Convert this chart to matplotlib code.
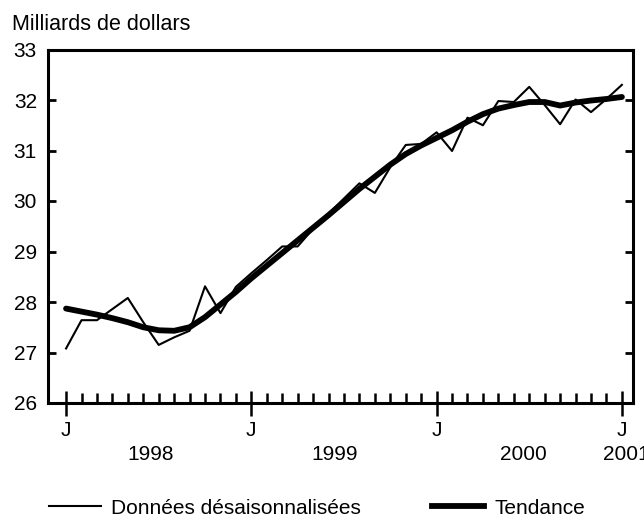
import numpy as np
import matplotlib
matplotlib.use('Agg')
import matplotlib.pyplot as plt
from matplotlib.lines import Line2D
from matplotlib.ticker import FixedLocator

plt.rcParams['font.family'] = ['Liberation Sans', 'DejaVu Sans']

# mois depuis janvier 1998 (0) jusqu'a janvier 2001 (36)
mois = np.arange(37)

# donnees desaisonnalisees (milliards de dollars)
donnees = [27.08, 27.64, 27.64, 27.86, 28.08, 27.60, 27.15, 27.30, 27.43, 28.31, 27.78, 28.30,
           28.57, 28.83, 29.10, 29.10, 29.45, 29.75, 30.05, 30.35, 30.16, 30.67, 31.11, 31.13,
           31.36, 30.99, 31.65, 31.50, 31.98, 31.96, 32.26, 31.90, 31.52, 32.01, 31.76, 32.02,
           32.30]

# tendance
tendance = [27.87, 27.81, 27.75, 27.68, 27.60, 27.50, 27.44, 27.43, 27.50, 27.70, 27.95, 28.20,
            28.47, 28.72, 28.97, 29.22, 29.47, 29.72, 29.98, 30.24, 30.48, 30.72, 30.93, 31.10,
            31.25, 31.40, 31.57, 31.72, 31.83, 31.90, 31.96, 31.96, 31.89, 31.95, 31.99, 32.02,
            32.06]

annees = ['1998', '1999', '2000', '2001']
pos_annees = [5.5, 17.4, 29.6, 36.3]
pos_j = [0, 12, 24, 36]

fig = plt.figure(figsize=(6.44, 5.23), dpi=100)
ax = fig.add_axes([48/644, 1 - 403/523, (633 - 48)/644, (403 - 49.5)/523])

ax.plot(mois, donnees, color='black', linewidth=1.5)
ax.plot(mois, tendance, color='black', linewidth=4.2, solid_capstyle='round')

ax.set_xlim(-1.17, 36.72)
ax.set_ylim(26, 33)

for s in ax.spines.values():
    s.set_linewidth(2.2)

ax.set_yticks(range(26, 34))
ax.tick_params(axis='y', direction='in', length=6, width=2, labelsize=15,
               right=True, left=True, pad=8)

ax.xaxis.set_major_locator(FixedLocator(pos_j))
ax.xaxis.set_minor_locator(FixedLocator([m for m in mois if m not in pos_j]))
ax.set_xticklabels(['J'] * len(pos_j))
ax.tick_params(axis='x', which='major', direction='inout', length=18, width=1.8,
               labelsize=15, pad=4)
ax.tick_params(axis='x', which='minor', direction='in', length=7, width=1.8)

trans = ax.get_xaxis_transform()
for a, p in zip(annees, pos_annees):
    ax.text(p, -0.147, a, transform=trans, ha='center', va='center', fontsize=15)

fig.text(12/644, 1 - 25/523, 'Milliards de dollars', ha='left', va='center', fontsize=15.5)

handles = [Line2D([], [], color='black', linewidth=1.5),
           Line2D([], [], color='black', linewidth=4.2)]
fig.legend(handles, ['Données désaisonnalisées', 'Tendance'], loc='center',
           bbox_to_anchor=(317/644, 1 - 508/523), ncol=2, frameon=False,
           fontsize=15, handlelength=2.5, columnspacing=3.4, handletextpad=0.5)

fig.savefig('out.png', dpi=100)
